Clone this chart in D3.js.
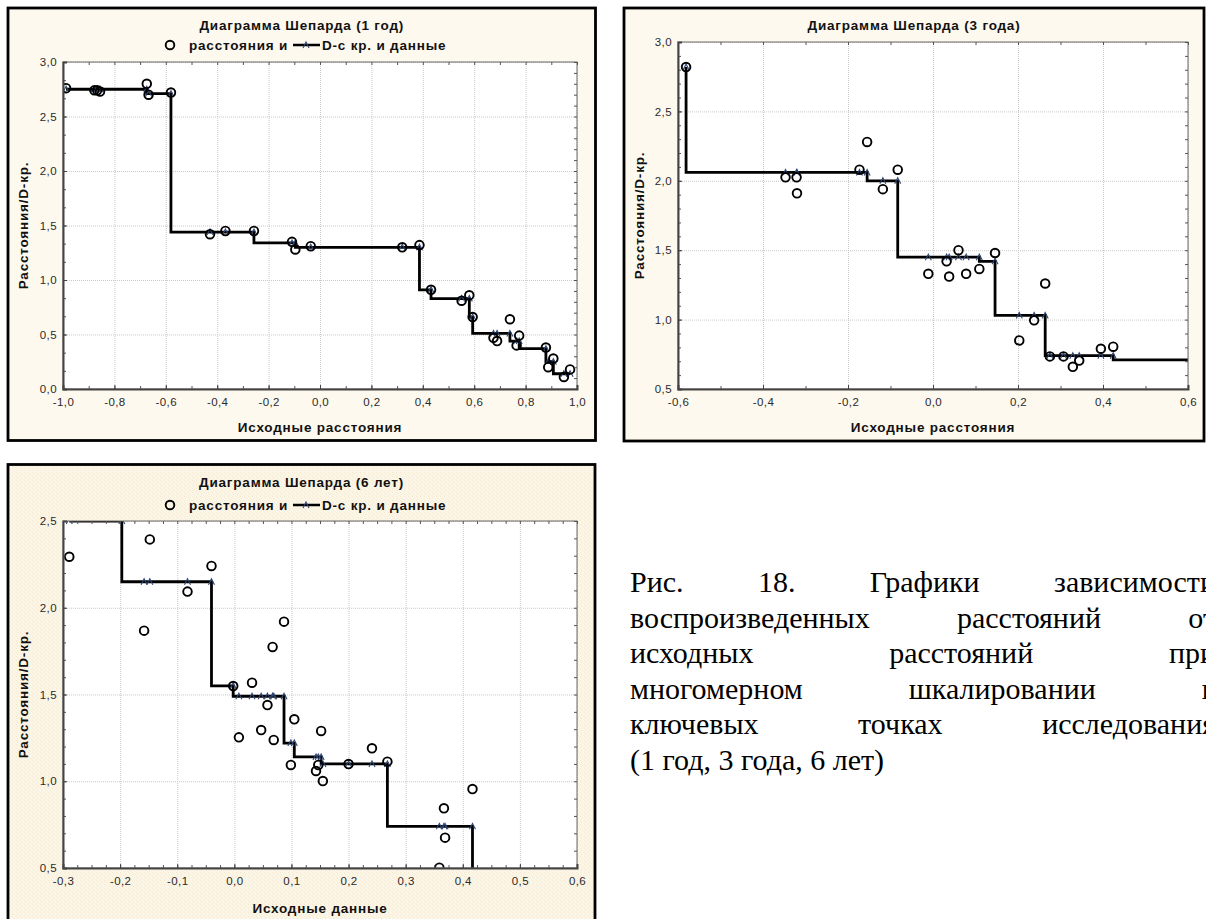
<!DOCTYPE html>
<html>
<head>
<meta charset="utf-8">
<script src="https://cdn.jsdelivr.net/npm/d3@7"></script>
<style>
  html, body { margin: 0; padding: 0; background: #ffffff; overflow: hidden; }
  svg { display: block; }
</style>
</head>
<body>
<svg id="fig" width="1206" height="919"></svg>
<script>
// ---- Shepard diagram data: original distance, reproduced distance, D-hat (disparity) ----
// 1 год
const year1Orig = [-0.988, -0.878, -0.867, -0.856, -0.674, -0.667, -0.580, -0.428, -0.368, -0.257,
                   -0.109, -0.096, -0.036, 0.320, 0.387, 0.432, 0.551, 0.581, 0.594, 0.675,
                   0.689, 0.739, 0.765, 0.775, 0.879, 0.888, 0.908, 0.949, 0.973];
const year1Dist = [2.76, 2.74, 2.74, 2.73, 2.80, 2.70, 2.72, 1.42, 1.45, 1.45,
                   1.35, 1.28, 1.31, 1.30, 1.32, 0.91, 0.81, 0.86, 0.66, 0.47,
                   0.44, 0.64, 0.40, 0.49, 0.38, 0.20, 0.28, 0.11, 0.18];
const year1Dhat = [2.75, 2.75, 2.75, 2.75, 2.75, 2.71, 2.71, 1.44, 1.44, 1.44,
                   1.34, 1.34, 1.30, 1.30, 1.30, 0.91, 0.83, 0.83, 0.66, 0.51,
                   0.51, 0.51, 0.44, 0.44, 0.37, 0.25, 0.25, 0.14, 0.14];

// 3 года
const year3Orig = [-0.581, -0.347, -0.321, -0.320, -0.173, -0.155, -0.118, -0.083, -0.011, 0.032,
                   0.038, 0.060, 0.078, 0.109, 0.146, 0.203, 0.238, 0.264, 0.275, 0.307,
                   0.329, 0.344, 0.395, 0.424, 0.750];
const year3Dist = [2.82, 2.025, 2.025, 1.91, 2.08, 2.28, 1.94, 2.08, 1.33, 1.42,
                   1.31, 1.50, 1.33, 1.365, 1.48, 0.85, 0.995, 1.26, 0.735, 0.735,
                   0.66, 0.705, 0.79, 0.805, 0.70];
const year3Dhat = [2.82, 2.06, 2.06, 2.06, 2.06, 2.06, 2.00, 2.00, 1.45, 1.45,
                   1.45, 1.45, 1.45, 1.45, 1.42, 1.03, 1.03, 1.03, 0.74, 0.74,
                   0.74, 0.74, 0.74, 0.74, 0.71];

// 6 лет
const year6Orig = [-0.289, -0.197, -0.158, -0.148, -0.082, -0.040, -0.002, 0.008, 0.031, 0.047,
                   0.058, 0.067, 0.069, 0.087, 0.099, 0.105, 0.143, 0.147, 0.152, 0.155,
                   0.200, 0.241, 0.268, 0.359, 0.367, 0.369, 0.417, 0.420];
const year6Dist = [2.294, 2.58, 1.868, 2.394, 2.093, 2.241, 1.549, 1.253, 1.568, 1.295,
                   1.439, 1.774, 1.238, 1.92, 1.094, 1.357, 1.059, 1.094, 1.29, 1.001,
                   1.099, 1.19, 1.113, 0.502, 0.844, 0.675, 0.955, 0.40];
const year6Dhat = [2.50, 2.50, 2.15, 2.15, 2.15, 2.15, 1.55, 1.49, 1.49, 1.49,
                   1.49, 1.49, 1.49, 1.49, 1.22, 1.22, 1.14, 1.14, 1.14, 1.10,
                   1.10, 1.10, 1.10, 0.74, 0.74, 0.74, 0.74, 0.40];

// ---- tick values (labelled) ----
const year1XTicks = [-1.0, -0.8, -0.6, -0.4, -0.2, 0.0, 0.2, 0.4, 0.6, 0.8, 1.0];
const year1YTicks = [0.0, 0.5, 1.0, 1.5, 2.0, 2.5, 3.0];
const year3XTicks = [-0.6, -0.4, -0.2, 0.0, 0.2, 0.4, 0.6];
const year3YTicks = [0.5, 1.0, 1.5, 2.0, 2.5, 3.0];
const year6XTicks = [-0.3, -0.2, -0.1, 0.0, 0.1, 0.2, 0.3, 0.4, 0.5, 0.6];
const year6YTicks = [0.5, 1.0, 1.5, 2.0, 2.5];

// ---- texts ----
const panelTitles = ["Диаграмма Шепарда (1 год)", "Диаграмма Шепарда (3 года)", "Диаграмма Шепарда (6 лет)"];
const xAxisTitles = ["Исходные расстояния", "Исходные расстояния", "Исходные данные"];
const yAxisTitle = "Расстояния/D-кр.";
const legendLabels = ["расстояния и", "D-с кр. и данные"];
const captionLines = [
  "Рис. 18. Графики зависимости",
  "воспроизведенных расстояний от",
  "исходных расстояний при",
  "многомерном шкалировании в",
  "ключевых точках исследования",
  "(1 год, 3 года, 6 лет)"
];

// ---------------------------------------------------------------------------
const svg = d3.select("#fig");
const fmt = d3.formatLocale({ decimal: ",", thousands: " ", grouping: [3], currency: ["", ""], minus: "-" }).format(".1f");
const SANS = "'Liberation Sans', Arial, sans-serif";
const BOLD = `bold 13.5px ${SANS}`;

// grainy backdrop used by the lower panel
const defs = svg.append("defs");
const grain = defs.append("pattern").attr("id", "grain").attr("patternUnits", "userSpaceOnUse")
  .attr("width", 4).attr("height", 4);
grain.append("rect").attr("width", 4).attr("height", 4).attr("fill", "#fcf6e6");
[[0, 0, "#f6e7cf"], [2, 1, "#f9efe0"], [1, 2, "#f4e9d6"], [3, 3, "#faf0dc"]].forEach(([px, py, c]) =>
  grain.append("rect").attr("x", px).attr("y", py).attr("width", 1).attr("height", 1).attr("fill", c));

function minorValues(domain, step) {
  const n = Math.round((domain[1] - domain[0]) / step);
  return d3.range(n + 1).map(i => +(domain[0] + i * step).toFixed(6));
}

function caret(sel) {
  sel.attr("d", "M-3,3L0,-3L3,3").attr("fill", "none").attr("stroke", "#2f4672").attr("stroke-width", 1.1);
}

function boldText(sel) {
  return sel.style("font", BOLD).style("letter-spacing", "0.8px").attr("fill", "#111");
}

function drawPanel(cfg, idx) {
  const f = cfg.frame, p = cfg.plot;
  const g = svg.append("g");

  g.append("rect").attr("x", f.x).attr("y", f.y).attr("width", f.w).attr("height", f.h)
    .attr("fill", cfg.bg).attr("stroke", "#000").attr("stroke-width", 2.8);

  const x = d3.scaleLinear().domain(cfg.xDomain).range([p.l, p.r]);
  const y = d3.scaleLinear().domain(cfg.yDomain).range([p.b, p.t]);
  const W = p.r - p.l, H = p.b - p.t;

  g.append("rect").attr("x", p.l).attr("y", p.t).attr("width", W).attr("height", H).attr("fill", "#fff");

  // dotted grid
  const gx = g.append("g").attr("transform", `translate(0,${p.b})`)
    .call(d3.axisBottom(x).tickValues(cfg.xTicks).tickSize(-H).tickFormat(""));
  const gy = g.append("g").attr("transform", `translate(${p.l},0)`)
    .call(d3.axisLeft(y).tickValues(cfg.yTicks).tickSize(-W).tickFormat(""));
  [gx, gy].forEach(a => {
    a.select(".domain").remove();
    a.selectAll("line").attr("stroke", "#c9c9c9").attr("stroke-width", 1).attr("stroke-dasharray", "1,1");
  });

  const clipId = "clip" + idx;
  defs.append("clipPath").attr("id", clipId).append("rect")
    .attr("x", p.l).attr("y", p.t).attr("width", W).attr("height", H);
  const body = g.append("g").attr("clip-path", `url(#${clipId})`);

  const pts = cfg.orig.map((v, i) => ({ x: v, d: cfg.dist[i], h: cfg.dhat[i] }));

  // monotone D-hat step line
  body.append("path").datum(pts)
    .attr("d", d3.line().x(d => x(d.x)).y(d => y(d.h)).curve(d3.curveStepBefore))
    .attr("fill", "none").attr("stroke", "#000").attr("stroke-width", 2.8).attr("stroke-linejoin", "miter");

  body.selectAll(".dh").data(pts).join("path").attr("class", "dh")
    .attr("transform", d => `translate(${x(d.x)},${y(d.h)})`).call(caret);

  body.selectAll(".pt").data(pts).join("circle").attr("class", "pt")
    .attr("cx", d => x(d.x)).attr("cy", d => y(d.d)).attr("r", 4.3)
    .attr("fill", "none").attr("stroke", "#000").attr("stroke-width", 1.9);

  // plot frame
  g.append("rect").attr("x", p.l).attr("y", p.t).attr("width", W).attr("height", H)
    .attr("fill", "none").attr("stroke", "#6a6a6a").attr("stroke-width", 1);

  // inward tick marks on all sides
  const tickStyle = a => {
    a.select(".domain").remove();
    a.selectAll("line").attr("stroke", "#555").attr("stroke-width", 1);
  };
  g.append("g").attr("transform", `translate(0,${p.b})`)
    .call(d3.axisBottom(x).tickValues(minorValues(cfg.xDomain, cfg.xMinor)).tickSize(-3).tickFormat("")).call(tickStyle);
  g.append("g").attr("transform", `translate(0,${p.t})`)
    .call(d3.axisTop(x).tickValues(minorValues(cfg.xDomain, cfg.xMinor)).tickSize(-3).tickFormat("")).call(tickStyle);
  g.append("g").attr("transform", `translate(${p.l},0)`)
    .call(d3.axisLeft(y).tickValues(minorValues(cfg.yDomain, cfg.yLeftMinor)).tickSize(-3).tickFormat("")).call(tickStyle);
  g.append("g").attr("transform", `translate(${p.r},0)`)
    .call(d3.axisRight(y).tickValues(minorValues(cfg.yDomain, cfg.yRightMinor)).tickSize(-3).tickFormat("")).call(tickStyle);

  // axis lines with labels
  const xAxis = g.append("g").attr("transform", `translate(0,${p.b})`)
    .call(d3.axisBottom(x).tickValues(cfg.xTicks).tickFormat(fmt).tickSize(-4).tickPadding(9));
  const yAxis = g.append("g").attr("transform", `translate(${p.l},0)`)
    .call(d3.axisLeft(y).tickValues(cfg.yTicks).tickFormat(fmt).tickSize(-4).tickPadding(6));
  [xAxis, yAxis].forEach(a => {
    a.select(".domain").attr("stroke", "#444").attr("stroke-width", 2);
    a.selectAll("line").attr("stroke", "#444");
    a.selectAll("text").attr("fill", "#2a2a2a").style("font", `11.5px ${SANS}`).style("letter-spacing", "0.4px");
  });

  // titles
  const cx = f.x + f.w / 2;
  g.append("text").attr("x", cx).attr("y", cfg.titleY).attr("text-anchor", "middle")
    .attr("dominant-baseline", "central").call(boldText).text(cfg.title);
  g.append("text").attr("x", (p.l + p.r) / 2).attr("y", cfg.xTitleY).attr("text-anchor", "middle")
    .attr("dominant-baseline", "central").call(boldText).text(cfg.xTitle);
  g.append("text").attr("transform", `translate(${f.x + 15},${(p.t + p.b) / 2}) rotate(-90)`)
    .attr("text-anchor", "middle").attr("dominant-baseline", "central").call(boldText).text(yAxisTitle);

  if (cfg.legendY) {
    const ly = cfg.legendY, lx = cfg.legendX;
    g.append("circle").attr("cx", lx).attr("cy", ly).attr("r", 4.3)
      .attr("fill", "none").attr("stroke", "#000").attr("stroke-width", 1.9);
    g.append("text").attr("x", lx + 19).attr("y", ly).attr("dominant-baseline", "central")
      .call(boldText).text(legendLabels[0]);
    g.append("line").attr("x1", lx + 123).attr("x2", lx + 150).attr("y1", ly).attr("y2", ly)
      .attr("stroke", "#000").attr("stroke-width", 2.5);
    g.append("path").attr("transform", `translate(${lx + 136},${ly})`).call(caret);
    g.append("text").attr("x", lx + 152).attr("y", ly).attr("dominant-baseline", "central")
      .call(boldText).text(legendLabels[1]);
  }
}

const panels = [
  { frame: { x: 8, y: 8, w: 587.5, h: 432.5 }, plot: { l: 63, t: 62, r: 577, b: 389 },
    xDomain: [-1, 1], yDomain: [0, 3], xTicks: year1XTicks, yTicks: year1YTicks,
    xMinor: 0.1, yLeftMinor: 0.5 / 3, yRightMinor: 0.1,
    orig: year1Orig, dist: year1Dist, dhat: year1Dhat, bg: "#fdf9ee",
    title: panelTitles[0], xTitle: xAxisTitles[0], titleY: 25, legendY: 45, legendX: 170, xTitleY: 427 },
  { frame: { x: 624, y: 8, w: 580, h: 433 }, plot: { l: 678, t: 42, r: 1188, b: 389 },
    xDomain: [-0.6, 0.6], yDomain: [0.5, 3], xTicks: year3XTicks, yTicks: year3YTicks,
    xMinor: 0.1, yLeftMinor: 0.1, yRightMinor: 0.1,
    orig: year3Orig, dist: year3Dist, dhat: year3Dhat, bg: "#fdf9ee",
    title: panelTitles[1], xTitle: xAxisTitles[1], titleY: 25, legendY: null, xTitleY: 427 },
  { frame: { x: 8, y: 464.5, w: 587, h: 460 }, plot: { l: 63, t: 521, r: 577, b: 868 },
    xDomain: [-0.3, 0.6], yDomain: [0.5, 2.5], xTicks: year6XTicks, yTicks: year6YTicks,
    xMinor: 0.025, yLeftMinor: 0.1, yRightMinor: 0.1,
    orig: year6Orig, dist: year6Dist, dhat: year6Dhat, bg: "url(#grain)",
    title: panelTitles[2], xTitle: xAxisTitles[2], titleY: 482, legendY: 505, legendX: 170, xTitleY: 908 }
];
panels.forEach(drawPanel);

// ---- figure caption, justified lines ----
const capLeft = 630, capRight = 1216, capBase = 592, capStep = 35.6;
const capG = svg.append("g").style("font", "30px 'Liberation Serif', 'Times New Roman', serif").attr("fill", "#000");
captionLines.forEach((line, i) => {
  const words = line.split(" ");
  const yb = capBase + i * capStep;
  if (i === captionLines.length - 1) {
    capG.append("text").attr("x", capLeft).attr("y", yb).text(line);
    return;
  }
  const nodes = words.map(w => capG.append("text").attr("y", yb).text(w));
  const widths = nodes.map(n => n.node().getComputedTextLength());
  const gap = (capRight - capLeft - d3.sum(widths)) / (words.length - 1);
  let xp = capLeft;
  nodes.forEach((n, k) => { n.attr("x", xp); xp += widths[k] + gap; });
});
</script>
</body>
</html>
